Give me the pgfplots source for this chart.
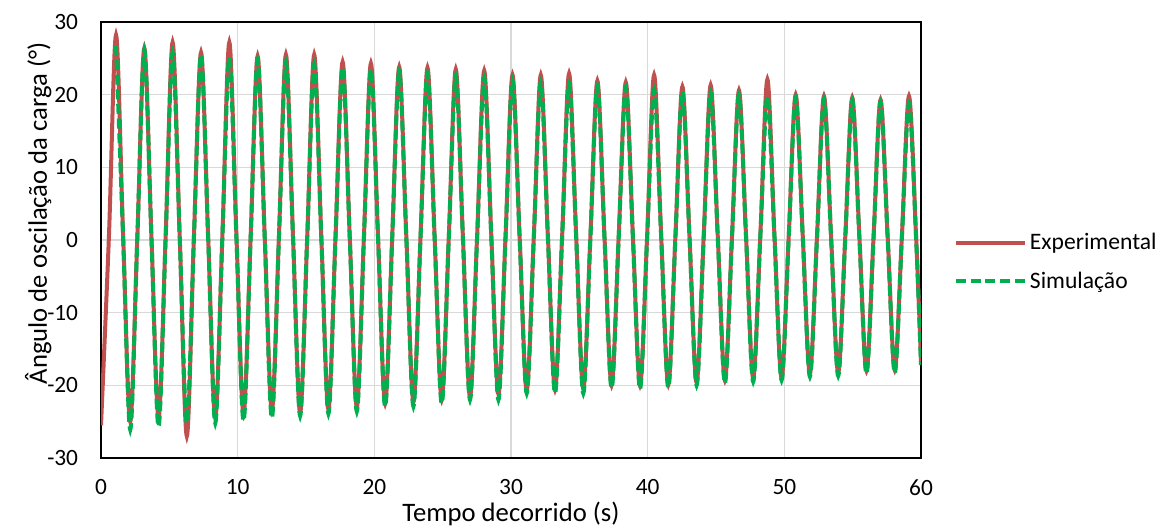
\documentclass[border=0pt]{standalone}
\usepackage{pgfplots}
\pgfplotsset{compat=1.18}
\usepackage{fontspec}
\setmainfont{Carlito}
\definecolor{expred}{HTML}{C0504D}
\definecolor{simgreen}{HTML}{00B050}
\definecolor{gridgray}{HTML}{D9D9D9}

\begin{document}
\begin{tikzpicture}[font=\fontsize{17.5}{21}\selectfont]
\useasboundingbox (-75.75pt,-53.25pt) rectangle (798.75pt,343.5pt);
\begin{axis}[
    scale only axis,
    width=615pt, height=327pt,
    xmin=0, xmax=60, ymin=-30, ymax=30,
    xtick={0,10,...,60}, ytick={-30,-20,...,30},
    xticklabels={0,10,20,30,40,50,60},
    yticklabels={-30,-20,-10,0,10,20,30},
    major tick length=0pt,
    grid=major,
    major grid style={gridgray, line width=1pt},
    axis line style={black, line width=1.5pt},
    tick label style={font=\fontsize{17.5}{21}\selectfont, inner sep=1pt},
    xticklabel style={yshift=-15pt},
    yticklabel style={xshift=-16pt},
    xlabel={Tempo decorrido (s)},
    ylabel={Ângulo de oscilação da carga (°)},
    label style={font=\fontsize{20}{24}\selectfont, inner sep=1pt},
    xlabel style={at={(axis description cs:0.5,-0.1445)}, anchor=base},
    ylabel style={at={(axis description cs:-0.0659,0.561)}, anchor=base},
    legend style={at={(1.035,0.45)}, anchor=west, draw=none, fill=none,
        row sep=11pt, font=\fontsize{17.7}{21}\selectfont},
    legend cell align=left,
    legend image code/.code={\draw[#1] (0pt,0pt) -- (52pt,0pt);},
]
% Experimental
\addplot[expred, line width=3pt, smooth, tension=0.55] coordinates {
(0,-25.5) (0.58,0.5)
(1.10,28.2) (1.62,0.5) (2.14,-25.0) (2.66,0.5)
(3.17,26.4) (3.69,0.5) (4.21,-24.5) (4.73,0.5)
(5.24,27.2) (5.76,0.5) (6.28,-27.0) (6.80,0.5)
(7.32,25.8) (7.84,0.5) (8.36,-24.5) (8.88,0.5)
(9.39,27.2) (9.91,0.5) (10.43,-24.0) (10.95,0.5)
(11.46,25.3) (11.98,0.5) (12.50,-23.5) (13.02,0.5)
(13.53,25.5) (14.05,0.5) (14.57,-23.8) (15.09,0.5)
(15.60,25.5) (16.12,0.5) (16.64,-23.3) (17.16,0.5)
(17.68,24.5) (18.20,0.5) (18.72,-23.0) (19.24,0.5)
(19.75,24.3) (20.27,0.5) (20.79,-22.5) (21.31,0.5)
(21.82,23.8) (22.34,0.5) (22.86,-22.3) (23.38,0.5)
(23.89,23.7) (24.41,0.5) (24.93,-22.0) (25.45,0.5)
(25.96,23.5) (26.48,0.5) (27.00,-21.6) (27.52,0.5)
(28.04,23.3) (28.56,0.5) (29.08,-21.2) (29.60,0.5)
(30.11,22.7) (30.63,0.5) (31.15,-20.7) (31.67,0.5)
(32.18,22.7) (32.70,0.5) (33.22,-20.6) (33.74,0.5)
(34.25,22.9) (34.77,0.5) (35.29,-20.5) (35.81,0.5)
(36.32,21.9) (36.84,0.5) (37.36,-20.0) (37.88,0.5)
(38.40,21.7) (38.92,0.5) (39.44,-20.0) (39.96,0.5)
(40.47,22.7) (40.99,0.5) (41.51,-19.9) (42.03,0.5)
(42.54,21.1) (43.06,0.5) (43.58,-19.6) (44.10,0.5)
(44.61,21.3) (45.13,0.5) (45.65,-19.3) (46.17,0.5)
(46.68,20.6) (47.20,0.5) (47.72,-19.0) (48.24,0.5)
(48.76,22.1) (49.28,0.5) (49.80,-19.0) (50.32,0.5)
(50.83,20.0) (51.35,0.5) (51.87,-18.4) (52.39,0.5)
(52.90,19.8) (53.42,0.5) (53.94,-18.3) (54.46,0.5)
(54.97,19.6) (55.49,0.5) (56.01,-18.0) (56.53,0.5)
(57.04,19.3) (57.56,0.5) (58.08,-17.9) (58.60,0.5)
(59.12,19.8) (59.64,0.5) (60,-16.8)
};
\addlegendentry{Experimental}
% Simulacao
\addplot[simgreen, line width=3pt, dash pattern=on 7.5pt off 3.5pt, smooth, tension=0.55] coordinates {
(1.10,26.8) (1.62,0.3) (2.14,-26.1) (2.66,0.3)
(3.17,26.2) (3.69,0.3) (4.21,-25.7) (4.73,0.3)
(5.24,25.8) (5.76,0.3) (6.28,-25.2) (6.80,0.3)
(7.32,25.5) (7.84,0.3) (8.36,-25.2) (8.88,0.3)
(9.39,25.1) (9.91,0.3) (10.43,-24.9) (10.95,0.3)
(11.46,24.8) (11.98,0.3) (12.50,-24.5) (13.02,0.3)
(13.53,24.5) (14.05,0.3) (14.57,-24.2) (15.09,0.3)
(15.60,24.2) (16.12,0.3) (16.64,-23.9) (17.16,0.3)
(17.68,23.8) (18.20,0.3) (18.72,-23.6) (19.24,0.3)
(19.75,23.5) (20.27,0.3) (20.79,-22.9) (21.31,0.3)
(21.82,23.2) (22.34,0.3) (22.86,-22.9) (23.38,0.3)
(23.89,22.9) (24.41,0.3) (24.93,-22.5) (25.45,0.3)
(25.96,22.6) (26.48,0.3) (27.00,-22.0) (27.52,0.3)
(28.04,22.3) (28.56,0.3) (29.08,-22.0) (29.60,0.3)
(30.11,22.0) (30.63,0.3) (31.15,-21.1) (31.67,0.3)
(32.18,21.7) (32.70,0.3) (33.22,-21.1) (33.74,0.3)
(34.25,21.5) (34.77,0.3) (35.29,-21.1) (35.81,0.3)
(36.32,21.2) (36.84,0.3) (37.36,-20.4) (37.88,0.3)
(38.40,21.0) (38.92,0.3) (39.44,-20.5) (39.96,0.3)
(40.47,20.7) (40.99,0.3) (41.51,-20.3) (42.03,0.3)
(42.54,20.5) (43.06,0.3) (43.58,-20.0) (44.10,0.3)
(44.61,20.3) (45.13,0.3) (45.65,-19.7) (46.17,0.3)
(46.68,20.0) (47.20,0.3) (47.72,-19.5) (48.24,0.3)
(48.76,19.8) (49.28,0.3) (49.80,-19.3) (50.32,0.3)
(50.83,19.6) (51.35,0.3) (51.87,-18.8) (52.39,0.3)
(52.90,19.4) (53.42,0.3) (53.94,-18.7) (54.46,0.3)
(54.97,19.2) (55.49,0.3) (56.01,-18.4) (56.53,0.3)
(57.04,19.0) (57.56,0.3) (58.08,-18.3) (58.60,0.3)
(59.12,18.8) (59.64,0.3) (60,-17.2)
};
\addlegendentry{Simulação}
\end{axis}
\end{tikzpicture}
\end{document}
